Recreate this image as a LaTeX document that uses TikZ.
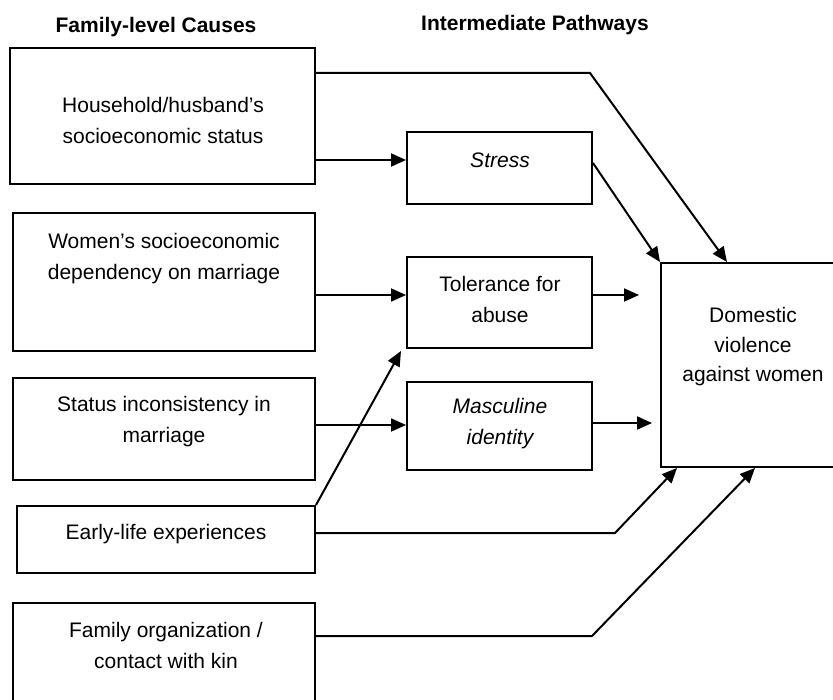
\documentclass[tikz,border=0pt]{standalone}
\usepackage{fontspec}
\setmainfont{Liberation Sans}
\usetikzlibrary{arrows.meta}

\tikzset{
	causebox/.style={draw, inner sep=0pt, minimum width=302pt},
	pathbox/.style={draw, inner sep=0pt, minimum width=185pt},
	boxtext/.style={align=center, inner sep=0pt, font=\fontsize{21}{31}\selectfont},
	header/.style={inner sep=0pt, font=\fontsize{21}{25}\selectfont\bfseries},
}

\begin{document}
\begin{tikzpicture}[x=1pt, y=-1pt, line width=2pt, >={Triangle[length=15pt, width=13pt]}]
	\useasboundingbox (0,0) rectangle (833,700);
	\clip (0,0) rectangle (833,700);

	% headings
	\node[header] (hcause) at (156,27) {Family-level Causes};
	\node[header] (hpath) at (535,25) {Intermediate Pathways};

	% family-level causes
	\node[causebox, minimum width=305pt, minimum height=136pt] (hh) at (162.5,116) {};
	\node[boxtext] (hhtext) at (163,120) {Household/husband’s\\socioeconomic status};
	\node[causebox, minimum height=138pt] (dep) at (164,282) {};
	\node[boxtext] (deptext) at (164,259) {Women’s socioeconomic\\dependency on marriage};
	\node[causebox, minimum height=102pt] (status) at (164,429) {};
	\node[boxtext] (statustext) at (164,422) {Status inconsistency in\\marriage};
	\node[causebox, minimum width=298pt, minimum height=67pt] (early) at (166,539.5) {};
	\node[boxtext] (earlytext) at (166,534) {Early-life experiences};
	\node[causebox, minimum height=117pt] (fam) at (164,661.5) {};
	\node[boxtext] (famtext) at (166,645) {Family organization /\\contact with kin};

	% intermediate pathways
	\node[pathbox, minimum height=72pt] (stress) at (499.5,168) {};
	\node[boxtext] (stresstext) at (500,160) {\itshape Stress};
	\node[pathbox, minimum height=91pt] (tol) at (499.5,302.5) {};
	\node[boxtext] (toltext) at (500,299) {Tolerance for\\abuse};
	\node[pathbox, minimum height=88pt] (masc) at (499.5,426) {};
	\node[boxtext] (masctext) at (500,424) {\itshape Masculine\\\itshape identity};

	% outcome
	\node[draw, inner sep=0pt, minimum width=189pt, minimum height=204pt] (dv) at (755.5,365) {};
	\node[boxtext, font=\fontsize{21}{29.5}\selectfont] (dvtext) at (753,347) {Domestic\\violence\\against women};

	% connectors
	\draw[->] (hh.east |- 0,73) -- (590,73) -- (dv.north -| 727,0);
	\draw[->] (hh.east |- 0,160) -- (stress.west |- 0,160);
	\draw[->] ([yshift=5pt]stress.east) -- (dv.north west);
	\draw[->] (dep.east |- 0,295) -- (tol.west |- 0,295);
	\draw[->, shorten >=21pt] (tol.east |- 0,295) -- (dv.west |- 0,295);
	\draw[->] (status.east |- 0,425) -- (masc.west |- 0,425);
	\draw[->, shorten >=8pt] (masc.east |- 0,423) -- (dv.west |- 0,423);
	\draw[->] (early.north east) -- ([shift={(-5pt,-2pt)}]tol.south west);
	\draw[->] (early.east |- 0,533) -- (615,533) -- (dv.south -| 677,0);
	\draw[->] (fam.east |- 0,636) -- (592,636) -- (dv.south -| 755,0);
\end{tikzpicture}
\end{document}
